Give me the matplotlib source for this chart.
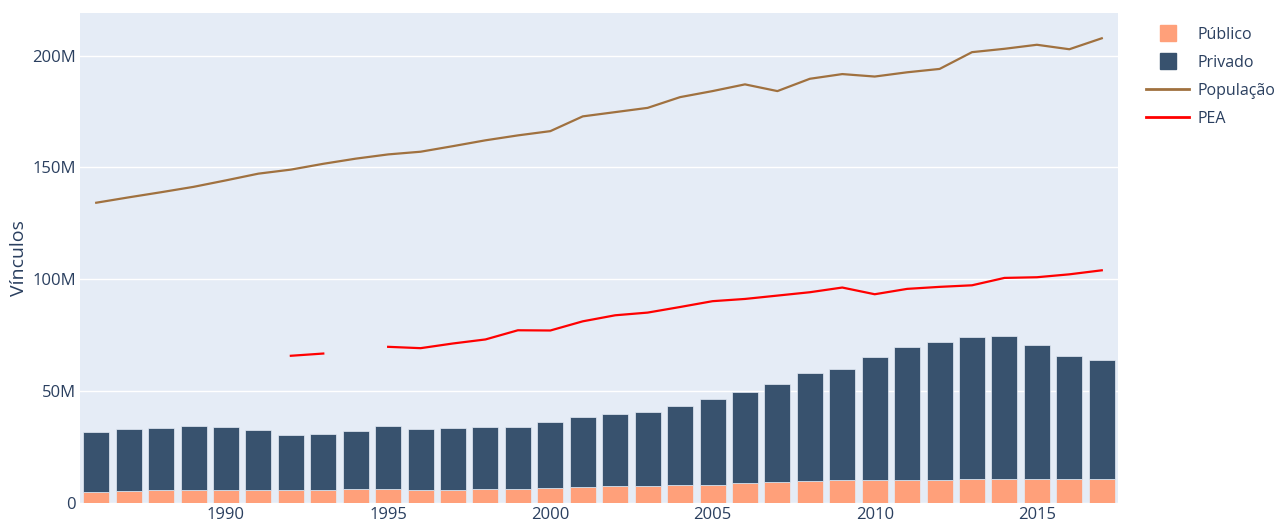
import numpy as np
import matplotlib
matplotlib.use("Agg")
import matplotlib.pyplot as plt
from matplotlib.lines import Line2D
from matplotlib.ticker import FuncFormatter

plt.rcParams["font.family"] = ["Open Sans", "DejaVu Sans"]

# Values (millions)
anos = list(range(1986, 2018))
publico = [4.8, 5.2, 5.8, 5.7, 5.7, 5.7, 5.7, 5.8, 6.25, 6.25, 5.95, 5.95, 6.25, 6.25,
           6.5, 7.3, 7.4, 7.4, 7.9, 8.0, 8.8, 9.4, 9.8, 10.1, 10.3, 10.3, 10.4, 10.8,
           10.8, 10.8, 10.8, 10.8]
total = [31.8, 32.9, 33.6, 34.4, 33.8, 32.7, 30.4, 30.7, 32.3, 34.4, 32.9, 33.6, 33.8, 33.8,
         36.2, 38.4, 39.9, 40.6, 43.2, 46.4, 49.6, 53.3, 58.3, 59.7, 65.2, 69.5, 71.9, 74.0,
         74.7, 70.8, 65.5, 63.8]
populacao = [134.2, 136.6, 138.9, 141.3, 144.2, 147.2, 149.0, 151.6, 153.9, 155.8, 157.0,
             159.5, 162.1, 164.3, 166.2, 172.8, 174.7, 176.6, 181.4, 184.1, 187.1, 184.1,
             189.6, 191.7, 190.6, 192.5, 194.0, 201.5, 203.0, 204.8, 202.8, 207.7]
pea = [np.nan] * 6 + [65.8, 66.8, np.nan, 69.8, 69.2, 71.3, 73.1, 77.2, 77.1, 81.2, 83.9,
                      85.1, 87.6, 90.2, 91.2, 92.7, 94.2, 96.3, 93.3, 95.7, 96.6, 97.3,
                      100.6, 100.9, 102.2, 104.0]

anos = np.array(anos)
publico = np.array(publico) * 1e6
privado = np.array(total) * 1e6 - publico
populacao = np.array(populacao) * 1e6
pea = np.array(pea) * 1e6

c_pub = "#FFA07A"
c_priv = "#38526E"
c_pop = "#A0713F"
c_pea = "#FF0000"
txt = "#2A3F5F"

fig = plt.figure(figsize=(12.82, 5.25), dpi=100)
ax = fig.add_axes([80 / 1282, 1 - 503 / 525, (1118 - 80) / 1282, (503 - 13) / 525])
ax.set_facecolor("#E5ECF6")

ax.bar(anos, publico, width=0.8, color=c_pub, edgecolor="#E5ECF6", linewidth=0.5, zorder=3)
ax.bar(anos, privado, width=0.8, bottom=publico, color=c_priv, edgecolor="#E5ECF6",
       linewidth=0.5, zorder=3)
ax.plot(anos, populacao, color=c_pop, lw=1.6, zorder=4)
ax.plot(anos, pea, color=c_pea, lw=1.6, zorder=4)

ax.set_xlim(1985.5, 2017.5)
ax.set_ylim(0, 219e6)
ax.set_xticks([1990, 1995, 2000, 2005, 2010, 2015])
ax.set_yticks([0, 50e6, 100e6, 150e6, 200e6])
ax.yaxis.set_major_formatter(FuncFormatter(lambda v, p: "0" if v == 0 else f"{v / 1e6:.0f}M"))
ax.grid(axis="y", color="white", lw=1, zorder=0)
ax.set_axisbelow(True)
for s in ax.spines.values():
    s.set_visible(False)
ax.tick_params(length=0, labelsize=12, labelcolor=txt, pad=3)
ax.tick_params(axis="x", pad=3)
ax.set_ylabel("Vínculos", fontsize=14, color=txt, labelpad=3)

handles = [
    Line2D([], [], ls="none", marker="s", markersize=11, color=c_pub),
    Line2D([], [], ls="none", marker="s", markersize=11, color=c_priv),
    Line2D([], [], color=c_pop, lw=2),
    Line2D([], [], color=c_pea, lw=2),
]
fig.legend(handles, ["Público", "Privado", "População", "PEA"], loc="upper left",
           bbox_to_anchor=(1146 / 1282, 1 - 27 / 525), frameon=False, fontsize=11.5,
           labelcolor=txt, handlelength=2.7, handletextpad=0.5, labelspacing=0.75,
           borderpad=0, borderaxespad=0)

fig.savefig("out.png", dpi=100)
